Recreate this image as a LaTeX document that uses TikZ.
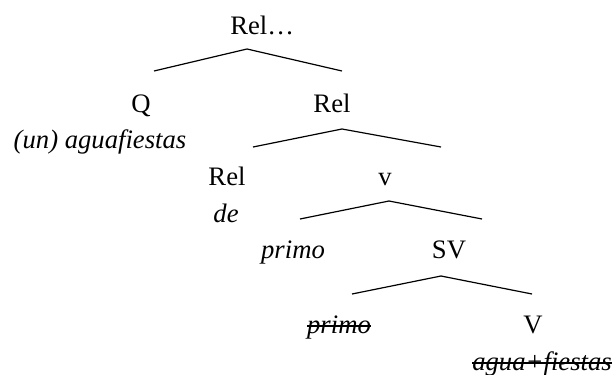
\documentclass[tikz,border=0pt]{standalone}
\usepackage{fontspec}
\setmainfont{Liberation Serif}
\newcommand{\strk}[1]{\setbox0\hbox{#1}\rlap{\rule[0.23em]{\wd0}{1.3pt}}\box0}
\begin{document}
\begin{tikzpicture}[x=0.75pt,y=-0.75pt,
  lbl/.style={font=\fontsize{20}{24}\selectfont, inner sep=0pt, anchor=base},
  word/.style={font=\fontsize{20}{24}\selectfont\itshape, inner sep=0pt, anchor=base},
  branch/.style={line width=0.9pt}]
\useasboundingbox (0,0) rectangle (616,374);
% labels
\node[lbl, anchor=base west] (root) at (230,35) {Rel…};
\node[lbl] (q) at (141,113) {Q};
\node[lbl] (rel1) at (332,113) {Rel};
\node[word] (unagua) at (100,148) {(un) aguafiestas};
\node[lbl] (rel2) at (227,185) {Rel};
\node[lbl] (vsmall) at (385,185) {v};
\node[word] (de) at (226,222) {de};
\node[word] (primo) at (293,258) {primo};
\node[lbl] (sv) at (449,258) {SV};
\node[word] (primocopy) at (339,333) {\strk{primo}};
\node[lbl] (vbig) at (533,333) {V};
\node[word, anchor=base west] (agua) at (472,370) {\strk{agua+fiestas}};
% branch points
\coordinate (t1) at (247,49);  \coordinate (l1) at (154,71);  \coordinate (r1) at (342,71);
\coordinate (t2) at (342,129); \coordinate (l2) at (253,147); \coordinate (r2) at (441,147);
\coordinate (t3) at (389,201); \coordinate (l3) at (300,219); \coordinate (r3) at (482,219);
\coordinate (t4) at (441,276); \coordinate (l4) at (352,294); \coordinate (r4) at (532,294);
\draw[branch] (l1) -- (t1) -- (r1);
\draw[branch] (l2) -- (t2) -- (r2);
\draw[branch] (l3) -- (t3) -- (r3);
\draw[branch] (l4) -- (t4) -- (r4);
\end{tikzpicture}
\end{document}
